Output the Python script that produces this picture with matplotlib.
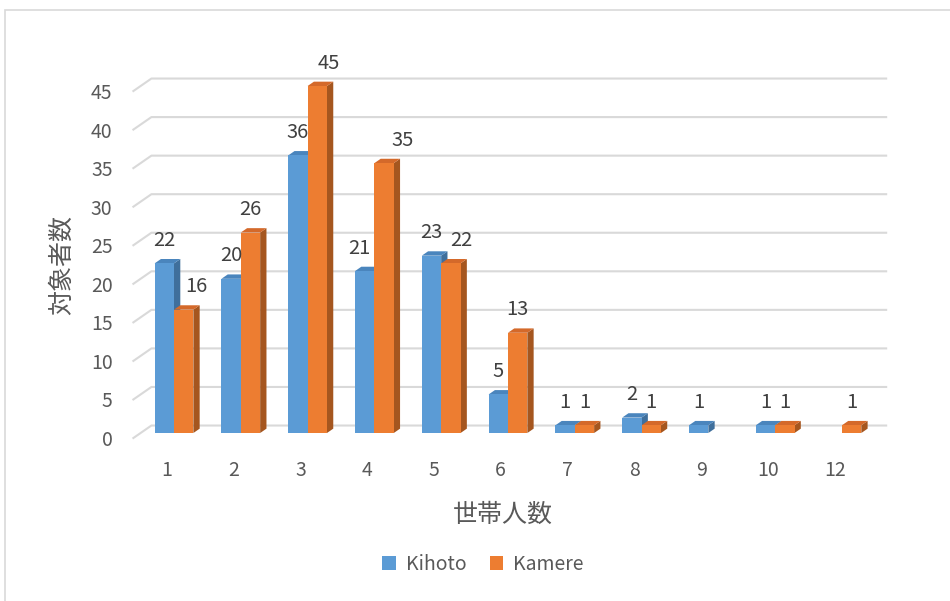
import numpy as np
import matplotlib
matplotlib.use("Agg")
import matplotlib.pyplot as plt
from matplotlib.patches import Polygon, Rectangle, Patch

plt.rcParams['font.family'] = ['Noto Sans CJK JP', 'DejaVu Sans']

# household size categories and counts per site (nan = no bar)
categories = ['1', '2', '3', '4', '5', '6', '7', '8', '9', '10', '12']
kihoto = [22, 20, 36, 21, 23, 5, 1, 2, 1, 1, np.nan]
kamere = [16, 26, 45, 35, 22, 13, 1, 1, np.nan, 1, 1]
series_names = ['Kihoto', 'Kamere']
y_ticks = list(range(0, 50, 5))

# sideways nudges (pixels) for a few crowded value labels
label_nudge = {(0, 1): 13, (2, 1): 12, (3, 0): -5, (3, 1): 19, (4, 1): 10}

# face colours: front, top, side
colors = [('#5B9BD5', '#4A85BD', '#3F6F9C'),
          ('#ED7D31', '#D4692A', '#A5561F')]
grid_color = '#D9D9D9'
tick_color = '#595959'

# pseudo-3D depth of the floor/back wall in data units
DX = 0.27
DY = -1.62
T0 = 0.4    # depth of the bars' front faces
BD = 0.35   # depth of the bars themselves
W = 0.29    # bar width

fig = plt.figure(figsize=(9.5, 6.01), dpi=100)
fig.patches.append(Rectangle((5 / 950, -0.1), 1.0, 1 - 10 / 601 + 0.1,
                             transform=fig.transFigure, fill=False,
                             edgecolor=grid_color, linewidth=1.2))

ax = fig.add_axes([0.1404, 0.2712, 0.7945, 0.603])
ax.set_xlim(-0.5, 10.8)
ax.set_ylim(0, 47)
for s in ax.spines.values():
    s.set_visible(False)

n = len(categories)
# gridlines: short diagonal on the side wall, then along the back wall
for v in y_ticks:
    ax.plot([-0.5, -0.5 + DX, n - 0.5 + DX], [v, v - DY, v - DY],
            color=grid_color, lw=1.5, zorder=1, clip_on=False)

x = np.arange(n)
for si, vals in enumerate([kihoto, kamere]):
    front, top, side = colors[si]
    for i, v in enumerate(vals):
        if np.isnan(v):
            continue
        x0 = x[i] - W + si * W + T0 * DX
        y0 = -T0 * DY
        y1 = y0 + v
        ox, oy = BD * DX, -BD * DY
        z = 2 + si
        ax.add_patch(Polygon([(x0 + W, y0), (x0 + W, y1), (x0 + W + ox, y1 + oy),
                              (x0 + W + ox, y0 + oy)], closed=True,
                             facecolor=side, edgecolor='none', zorder=z))
        ax.add_patch(Polygon([(x0, y1), (x0 + W, y1), (x0 + W + ox, y1 + oy),
                              (x0 + ox, y1 + oy)], closed=True,
                             facecolor=top, edgecolor='none', zorder=z))
        ax.add_patch(Rectangle((x0, y0), W, v, facecolor=front,
                               edgecolor='none', zorder=z))
        ax.annotate(f'{int(v)}', (x0 + W / 2, y1),
                    xytext=(label_nudge.get((i, si), 0), 23),
                    textcoords='offset pixels', ha='center', va='center',
                    fontsize=14.5, color='#404040', zorder=5)

ax.set_xticks(x)
ax.set_xticklabels(categories)
ax.set_yticks(y_ticks)
ax.tick_params(axis='both', length=0, labelsize=14, labelcolor=tick_color)
ax.tick_params(axis='y', pad=15)
ax.tick_params(axis='x', pad=16)

fig.text(503 / 950, 1 - 515 / 601, '世帯人数', ha='center', va='center',
         fontsize=18, color=tick_color)
fig.text(62 / 950, 1 - 265 / 601, '対象者数', ha='center', va='center',
         rotation=90, fontsize=18, color=tick_color)

handles = [Patch(facecolor=colors[k][0], label=series_names[k]) for k in range(2)]
fig.legend(handles=handles, loc='center', bbox_to_anchor=(483 / 950, 1 - 564 / 601),
           ncol=2, frameon=False, fontsize=14, handlelength=0.7, handleheight=0.7,
           handletextpad=0.5, columnspacing=1.2, labelcolor=tick_color)

fig.savefig('out.png', dpi=100)
